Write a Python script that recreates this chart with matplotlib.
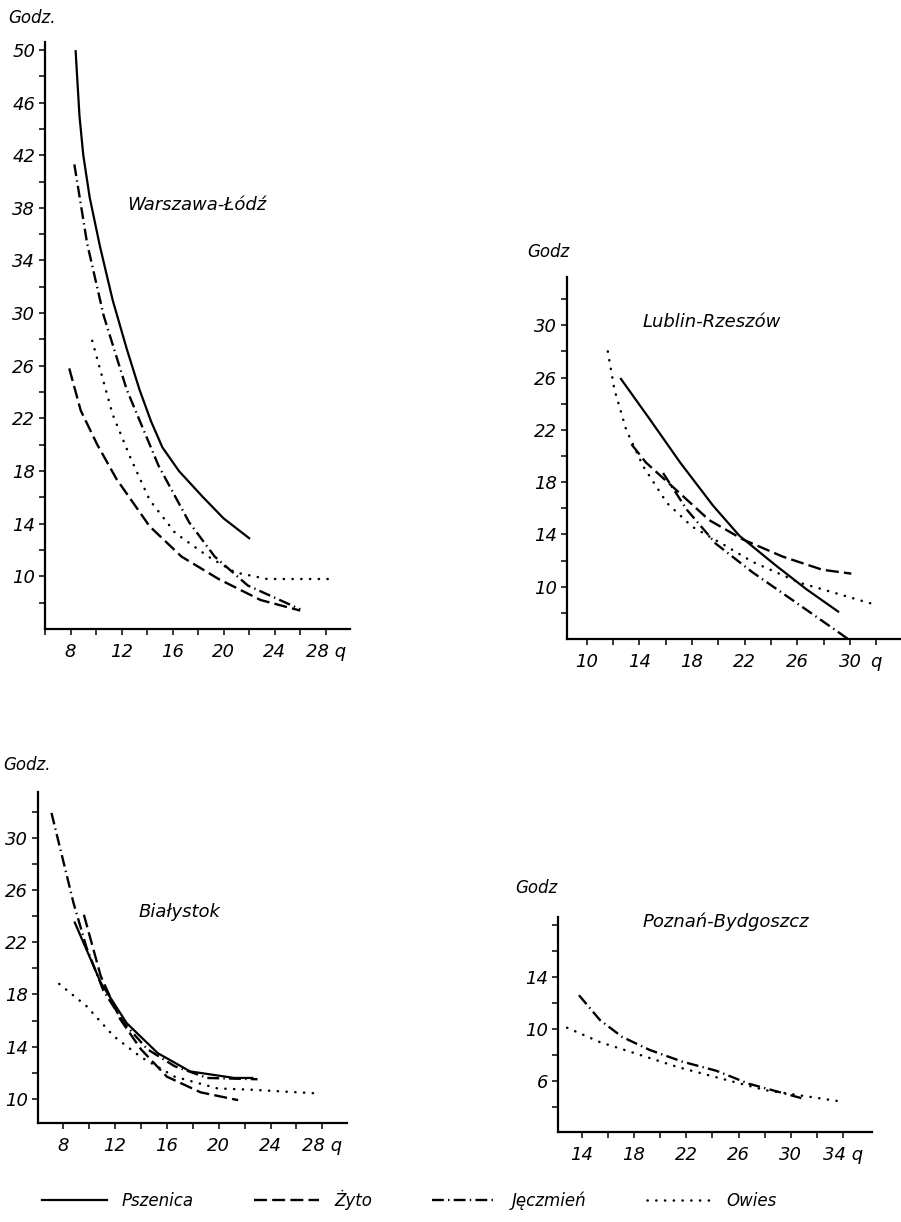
import matplotlib.pyplot as plt
from matplotlib.ticker import FixedLocator

plt.rcParams['font.family'] = ['DejaVu Sans']
plt.rcParams['font.style'] = 'italic'

crops = ['Pszenica', 'Żyto', 'Jęczmień', 'Owies']

# Warszawa-Łódź
wl_pszenica_x = [8.4, 8.7, 9.0, 9.5, 10.3, 11.3, 12.4, 13.4, 14.3, 15.2, 16.5, 18.3, 20.0, 22.0]
wl_pszenica_y = [49.9, 45.0, 42.0, 38.8, 35.1, 31.0, 27.3, 24.2, 21.8, 19.8, 18.0, 16.1, 14.4, 12.9]
wl_zyto_x = [7.9, 8.8, 10.1, 11.6, 14.2, 16.7, 19.6, 22.9, 26.0]
wl_zyto_y = [25.8, 22.6, 20.0, 17.4, 13.8, 11.5, 9.8, 8.2, 7.4]
wl_jeczmien_x = [8.3, 9.3, 10.6, 12.4, 14.9, 17.3, 19.3, 21.9, 26.0]
wl_jeczmien_y = [41.3, 35.3, 29.8, 24.2, 18.4, 14.1, 11.5, 9.3, 7.5]
wl_owies_x = [9.7, 11.3, 12.7, 14.2, 16.2, 18.8, 20.9, 23.4, 28.2]
wl_owies_y = [27.9, 22.3, 19.0, 15.8, 13.3, 11.5, 10.3, 9.8, 9.8]

# Lublin-Rzeszów
lr_pszenica_x = [12.6, 14.8, 17.1, 19.6, 21.6, 24.4, 26.7, 29.1]
lr_pszenica_y = [25.9, 22.8, 19.5, 16.2, 13.9, 11.6, 9.8, 8.1]
lr_zyto_x = [13.4, 14.5, 16.8, 19.3, 21.9, 24.9, 27.9, 30.1]
lr_zyto_y = [20.9, 19.5, 17.4, 15.1, 13.6, 12.3, 11.3, 11.0]
lr_jeczmien_x = [15.8, 17.6, 19.8, 22.6, 25.6, 30.0]
lr_jeczmien_y = [18.7, 15.9, 13.3, 11.1, 9.0, 5.9]
lr_owies_x = [11.6, 12.1, 13.0, 14.3, 16.1, 18.0, 20.6, 22.6, 26.2, 32.0]
lr_owies_y = [28.0, 25.1, 22.0, 19.2, 16.4, 14.6, 13.1, 11.9, 10.3, 8.6]

# Białystok
bi_pszenica_x = [8.9, 10.9, 12.9, 15.3, 17.8, 21.2, 22.6]
bi_pszenica_y = [23.5, 18.9, 15.8, 13.5, 12.1, 11.6, 11.6]
bi_zyto_x = [9.6, 10.9, 12.4, 14.0, 16.0, 18.6, 21.5]
bi_zyto_y = [24.1, 19.4, 16.1, 13.8, 11.7, 10.5, 9.9]
bi_jeczmien_x = [7.1, 8.8, 9.8, 11.1, 12.7, 14.5, 16.6, 19.1, 23.0]
bi_jeczmien_y = [31.9, 25.0, 21.6, 18.3, 15.8, 13.8, 12.5, 11.6, 11.5]
bi_owies_x = [7.7, 9.8, 11.9, 14.0, 16.6, 19.9, 22.5, 27.9]
bi_owies_y = [18.8, 17.1, 14.8, 13.2, 11.7, 10.8, 10.7, 10.4]

# Poznań-Bydgoszcz
pb_jeczmien_x = [13.8, 15.4, 17.1, 19.2, 21.7, 24.3, 26.8, 30.8]
pb_jeczmien_y = [12.6, 10.7, 9.4, 8.4, 7.5, 6.8, 5.8, 4.7]
pb_owies_x = [12.9, 15.4, 17.9, 21.3, 24.3, 28.1, 34.1]
pb_owies_y = [10.1, 9.0, 8.2, 7.1, 6.3, 5.3, 4.4]

styles = {
    'Pszenica': dict(ls='-', lw=1.6),
    'Żyto': dict(ls=(0, (5.5, 2.2)), lw=1.7),
    'Jęczmień': dict(ls=(0, (5, 1.8, 0.6, 1.8)), lw=1.7),
    'Owies': dict(ls=(0, (0.1, 3.4)), lw=1.8, dash_capstyle='round'),
}

W, H = 901, 1222
fig = plt.figure(figsize=(W / 100, H / 100), dpi=100)


def make_axes(px_left, px_right, px_top, px_bottom):
    return fig.add_axes([px_left / W, 1 - px_bottom / H,
                         (px_right - px_left) / W, (px_bottom - px_top) / H])


def style_axes(ax, xlim, ylim, xmajor, xlabels, xminor, ymajor, yminor):
    ax.set_xlim(*xlim)
    ax.set_ylim(*ylim)
    for s in ['top', 'right']:
        ax.spines[s].set_visible(False)
    for s in ['left', 'bottom']:
        ax.spines[s].set_linewidth(1.6)
    ax.xaxis.set_major_locator(FixedLocator(xmajor))
    ax.set_xticklabels(xlabels)
    ax.xaxis.set_minor_locator(FixedLocator(xminor))
    ax.yaxis.set_major_locator(FixedLocator(ymajor))
    ax.set_yticklabels([str(v) for v in ymajor])
    ax.yaxis.set_minor_locator(FixedLocator(yminor))
    ax.tick_params(which='both', length=4, width=1.1, labelsize=13)
    ax.tick_params(axis='x', pad=6)
    ax.tick_params(axis='y', pad=3)


def draw(ax, data):
    lines = []
    for name, (xs, ys) in data.items():
        ln, = ax.plot(xs, ys, color='black', label=name, **styles[name])
        lines.append(ln)
    return lines


# panel 1
ax1 = make_axes(45, 350, 42, 629)
handles = draw(ax1, {'Pszenica': (wl_pszenica_x, wl_pszenica_y),
                     'Żyto': (wl_zyto_x, wl_zyto_y),
                     'Jęczmień': (wl_jeczmien_x, wl_jeczmien_y),
                     'Owies': (wl_owies_x, wl_owies_y)})
style_axes(ax1, (6.0, 29.9), (6.0, 50.6),
           [8, 12, 16, 20, 24, 28], ['8', '12', '16', '20', '24', '28 q'],
           list(range(6, 30, 2)), list(range(10, 51, 4)), list(range(8, 51, 2)))

# panel 2
ax2 = make_axes(567, 900, 277, 639)
draw(ax2, {'Pszenica': (lr_pszenica_x, lr_pszenica_y),
           'Żyto': (lr_zyto_x, lr_zyto_y),
           'Jęczmień': (lr_jeczmien_x, lr_jeczmien_y),
           'Owies': (lr_owies_x, lr_owies_y)})
style_axes(ax2, (8.5, 33.8), (6.0, 33.7),
           [10, 14, 18, 22, 26, 30, 32], ['10', '14', '18', '22', '26', '30', 'q'],
           list(range(10, 34, 2)), list(range(10, 31, 4)), list(range(8, 33, 2)))

# panel 3
ax3 = make_axes(38, 347, 792, 1123)
draw(ax3, {'Pszenica': (bi_pszenica_x, bi_pszenica_y),
           'Żyto': (bi_zyto_x, bi_zyto_y),
           'Jęczmień': (bi_jeczmien_x, bi_jeczmien_y),
           'Owies': (bi_owies_x, bi_owies_y)})
style_axes(ax3, (6.06, 29.9), (8.15, 33.5),
           [8, 12, 16, 20, 24, 28], ['8', '12', '16', '20', '24', '28 q'],
           list(range(8, 30, 2)), list(range(10, 31, 4)), list(range(10, 33, 2)))

# panel 4
ax4 = make_axes(558, 872, 917, 1132)
draw(ax4, {'Jęczmień': (pb_jeczmien_x, pb_jeczmien_y),
           'Owies': (pb_owies_x, pb_owies_y)})
style_axes(ax4, (12.2, 36.2), (2.1, 18.6),
           [14, 18, 22, 26, 30, 34], ['14', '18', '22', '26', '30', '34 q'],
           list(range(14, 36, 2)), [6, 10, 14], list(range(4, 19, 2)))

# y-axis captions and region names (pixel positions)
for (px, py, txt) in [(8, 18, 'Godz.'), (527, 252, 'Godz'),
                      (3, 765, 'Godz.'), (515, 888, 'Godz')]:
    fig.text(px / W, 1 - py / H, txt, fontsize=12, ha='left', va='center')
for (px, py, txt) in [(197, 205, 'Warszawa-Łódź'), (712, 322, 'Lublin-Rzeszów'),
                      (179, 912, 'Białystok'), (726, 922, 'Poznań-Bydgoszcz')]:
    fig.text(px / W, 1 - py / H, txt, fontsize=13, ha='center', va='center')

fig.legend(handles, crops, loc='center left', bbox_to_anchor=(42 / W, 1 - 1200 / H),
           ncol=4, frameon=False, fontsize=12, handlelength=3.9,
           handletextpad=0.9, columnspacing=3.6, borderpad=0, borderaxespad=0)

fig.savefig('out.png', dpi=100)
